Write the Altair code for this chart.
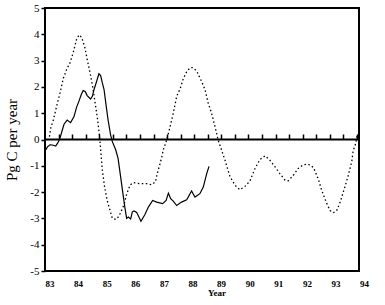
import altair as alt
import pandas as pd

# Solid line (years, Pg C per year)
solid_year = [82.85, 82.91, 83.00, 83.08, 83.20, 83.26, 83.31, 83.37, 83.43, 83.49,
              83.60, 83.72, 83.84, 83.93, 84.01, 84.09, 84.16, 84.23, 84.30, 84.42,
              84.48, 84.54, 84.63, 84.71, 84.77, 84.83, 84.89, 84.95, 85.03, 85.12,
              85.18, 85.30, 85.38, 85.47, 85.55, 85.62, 85.68, 85.74, 85.82, 85.88,
              85.94, 86.03, 86.18, 86.32, 86.44, 86.59, 86.73, 86.94, 87.06, 87.14,
              87.22, 87.31, 87.43, 87.60, 87.78, 87.95, 88.07, 88.24, 88.36, 88.48,
              88.56]
solid_flux = [-0.40, -0.28, -0.20, -0.21, -0.25, -0.15, -0.05, 0.13, 0.36, 0.58,
              0.74, 0.64, 0.87, 1.23, 1.45, 1.70, 1.86, 1.83, 1.67, 1.54,
              1.64, 1.90, 2.21, 2.50, 2.43, 2.15, 1.90, 1.39, 0.75, 0.17,
              -0.08, -0.40, -0.72, -1.42, -2.06, -2.60, -3.00, -2.95, -3.02, -2.75,
              -2.72, -2.77, -3.11, -2.85, -2.57, -2.32, -2.38, -2.44, -2.32, -2.04,
              -2.25, -2.34, -2.51, -2.38, -2.29, -1.96, -2.19, -2.06, -1.81, -1.30,
              -1.02]

# Dotted line
dotted_year = [82.98, 83.03, 83.12, 83.23, 83.35, 83.47, 83.58, 83.70, 83.81, 83.93,
               84.02, 84.11, 84.22, 84.30, 84.40, 84.49, 84.57, 84.65, 84.72, 84.77,
               84.83, 84.91, 85.00, 85.10, 85.18, 85.30, 85.41, 85.52, 85.59, 85.68,
               85.80, 85.91, 86.15, 86.38, 86.56, 86.69, 86.75, 86.85, 86.91, 86.96,
               87.08, 87.20, 87.31, 87.43, 87.55, 87.66, 87.78, 87.90, 88.01, 88.13,
               88.30, 88.42, 88.53, 88.65, 88.77, 88.88, 89.00, 89.12, 89.29, 89.47,
               89.64, 89.82, 89.99, 90.17, 90.34, 90.52, 90.69, 90.87, 91.04, 91.22,
               91.33, 91.51, 91.68, 91.86, 92.03, 92.21, 92.38, 92.50, 92.67, 92.79,
               92.91, 93.02, 93.14, 93.31, 93.43, 93.55, 93.60, 93.69, 93.74]
dotted_flux = [0.11, 0.45, 0.75, 1.26, 1.77, 2.34, 2.66, 2.92, 3.30, 3.81,
               3.98, 3.88, 3.49, 3.05, 2.54, 2.02, 1.45, 0.87, 0.24, -0.36,
               -1.17, -1.81, -2.32, -2.70, -3.00, -3.04, -2.92, -2.65, -2.48, -2.08,
               -1.73, -1.64, -1.68, -1.68, -1.72, -1.60, -1.30, -0.91, -0.66, -0.40,
               -0.02, 0.49, 1.00, 1.64, 1.93, 2.31, 2.58, 2.73, 2.73, 2.60,
               2.21, 1.90, 1.39, 1.00, 0.49, -0.02, -0.40, -0.79, -1.40, -1.74,
               -1.91, -1.78, -1.58, -1.10, -0.76, -0.62, -0.79, -1.04, -1.30, -1.55,
               -1.57, -1.36, -1.10, -0.96, -0.94, -1.06, -1.50, -1.93, -2.41, -2.70,
               -2.78, -2.72, -2.40, -1.81, -1.36, -0.85, -0.44, -0.15, 0.17]

x_label_years = [83, 84, 85, 86, 87, 88, 89, 90, 91, 92, 93, 94]
x_label_text = ["83", "84", "85", "86", "87", "88", "89", "90", "91", "92", "93", "94"]
zero_line_ticks = [83.30, 83.77, 84.25, 84.72, 85.20, 85.67, 86.15, 86.62, 87.10, 87.57,
                   88.04, 88.52, 88.99, 89.47, 89.94, 90.42, 90.89, 91.36, 91.84, 92.31,
                   92.79, 93.26, 93.74]
y_ticks = [-5, -4, -3, -2, -1, 0, 1, 2, 3, 4, 5]

solid_df = pd.DataFrame({"year": solid_year, "flux": solid_flux})
dotted_df = pd.DataFrame({"year": dotted_year, "flux": dotted_flux})
label_df = pd.DataFrame({"year": x_label_years, "label": x_label_text})

SERIF = "Liberation Serif"
x_scale = alt.Scale(domain=[82.825, 93.805], nice=False, zero=False)
y_scale = alt.Scale(domain=[-5, 5], nice=False, zero=False)

x_axis = alt.Axis(orient="top", offset=-131, values=zero_line_ticks,
                  labels=False, ticks=True, tickSize=5, tickColor="black",
                  tickWidth=1.5, domainColor="black", domainWidth=2,
                  grid=False, title=None)
y_axis = alt.Axis(values=y_ticks, tickSize=4, tickColor="black", tickWidth=1.5,
                  domain=False, grid=False, labelFont=SERIF, labelFontSize=11,
                  labelColor="black", labelPadding=2, labelOverlap=False,
                  labelExpr="'' + datum.value",
                  title="Pg C per year", titleFont=SERIF, titleFontSize=15,
                  titleFontWeight="normal", titleColor="black", titlePadding=10)

solid = alt.Chart(solid_df).mark_line(color="black", strokeWidth=1.2).encode(
    x=alt.X("year:Q", scale=x_scale, axis=x_axis),
    y=alt.Y("flux:Q", scale=y_scale, axis=y_axis),
)

dotted = alt.Chart(dotted_df).mark_line(color="black", strokeWidth=1.3,
                                        strokeDash=[1.5, 2.5]).encode(
    x=alt.X("year:Q", scale=x_scale, axis=x_axis),
    y=alt.Y("flux:Q", scale=y_scale, axis=y_axis),
)

labels = alt.Chart(label_df).mark_text(font=SERIF, fontSize=9, fontWeight="bold",
                                        color="black", baseline="middle", dy=12.5).encode(
    x=alt.X("year:Q", scale=x_scale, axis=x_axis),
    y=alt.Y(datum=-5, scale=y_scale, axis=y_axis),
    text="label:N",
)

chart = alt.layer(solid, dotted, labels).properties(
    width=314, height=263,
    autosize=alt.AutoSizeParams(type="none"),
    padding={"left": 45, "top": 8, "right": 26, "bottom": 34},
    title=alt.TitleParams(text="Year", orient="bottom", anchor="middle", frame="group",
                          dx=15, offset=0, font=SERIF, fontSize=9, fontWeight="bold",
                          color="black", baseline="top"),
).configure(
    background="white",
    view={"stroke": "#000000", "strokeWidth": 2, "strokeOpacity": 1},
)

chart.save("out.html", embed_options={"renderer": "svg", "actions": False})
